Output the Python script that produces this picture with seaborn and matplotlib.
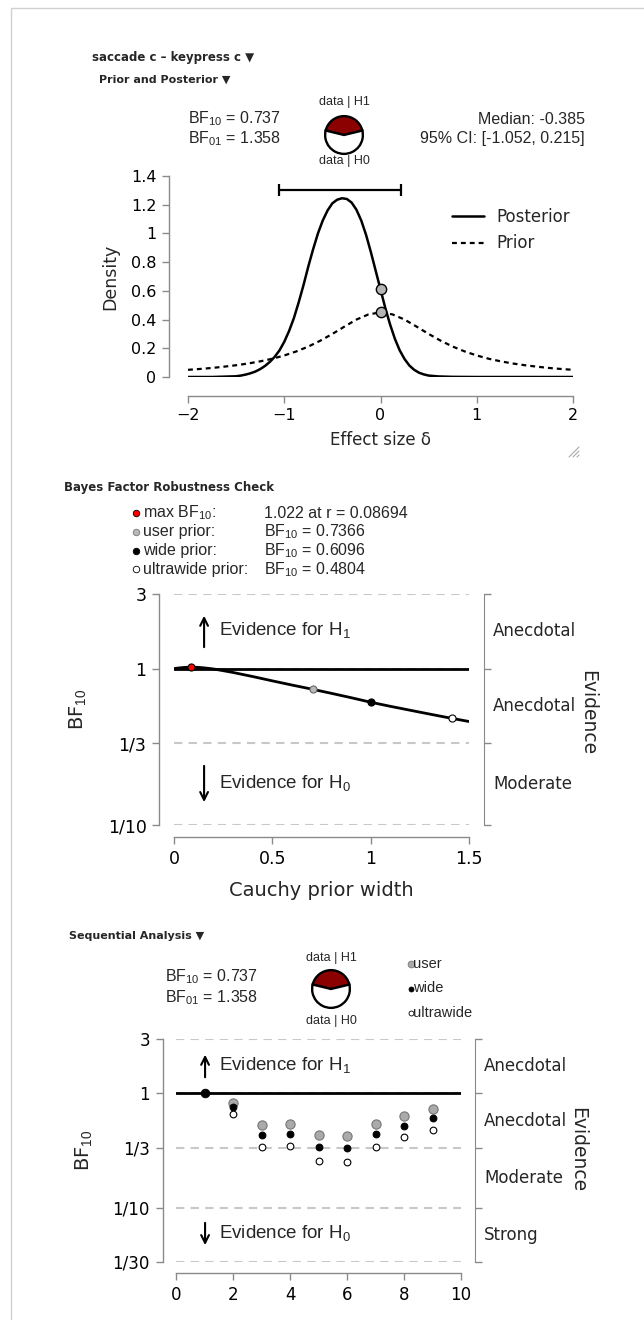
import numpy as np
import pandas as pd
import seaborn as sns
import matplotlib.pyplot as plt
from matplotlib.lines import Line2D
from matplotlib.patches import Rectangle

W, H = 644, 1320

# Prior and posterior
post_delta = [-2.0, -1.75, -1.5, -1.45, -1.4, -1.35, -1.3, -1.25, -1.2, -1.15, -1.1, -1.05,
              -1.0, -0.95, -0.9, -0.85, -0.8, -0.75, -0.7, -0.65, -0.6, -0.55, -0.5, -0.45,
              -0.4, -0.35, -0.3, -0.25, -0.2, -0.15, -0.1, -0.05, 0.0, 0.05, 0.1, 0.15,
              0.2, 0.25, 0.3, 0.35, 0.4, 0.45, 0.5, 0.6, 0.75, 1.0, 1.5, 2.0]
post_density = [0.0, 0.0, 0.005, 0.01, 0.017, 0.026, 0.038, 0.055, 0.077, 0.105, 0.14, 0.185,
                0.245, 0.32, 0.41, 0.52, 0.64, 0.77, 0.89, 1.0, 1.09, 1.16, 1.21, 1.235,
                1.245, 1.24, 1.215, 1.165, 1.09, 0.99, 0.87, 0.74, 0.61, 0.48, 0.365, 0.265,
                0.185, 0.125, 0.08, 0.05, 0.03, 0.018, 0.01, 0.004, 0.001, 0.0, 0.0, 0.0]
prior_delta = [-2.0, -1.875, -1.75, -1.625, -1.5, -1.375, -1.25, -1.125, -1.0, -0.875, -0.75,
               -0.625, -0.5, -0.375, -0.25, -0.125, 0.0, 0.125, 0.25, 0.375, 0.5, 0.625,
               0.75, 0.875, 1.0, 1.125, 1.25, 1.375, 1.5, 1.625, 1.75, 1.875, 2.0]
prior_density = [0.05, 0.056, 0.063, 0.072, 0.082, 0.094, 0.109, 0.127, 0.15, 0.178, 0.212,
                 0.253, 0.3, 0.351, 0.4, 0.436, 0.45, 0.436, 0.4, 0.351, 0.3, 0.253,
                 0.212, 0.178, 0.15, 0.127, 0.109, 0.094, 0.082, 0.072, 0.063, 0.056, 0.05]
ci_bounds = [-1.052, 0.215]
ci_level = 1.30
zero_delta = [0.0, 0.0]
zero_density = [0.61, 0.45]
bf10, bf01 = 0.737, 1.358
median = -0.385

# Robustness check
rob_r = [0.0, 0.025, 0.05, 0.087, 0.125, 0.15, 0.2, 0.25, 0.3, 0.4, 0.5, 0.6, 0.707,
         0.8, 0.9, 1.0, 1.1, 1.2, 1.3, 1.414, 1.5]
rob_bf = [1.0, 1.01, 1.017, 1.022, 1.018, 1.012, 0.995, 0.97, 0.945, 0.89, 0.835, 0.785,
          0.7366, 0.695, 0.652, 0.6096, 0.574, 0.542, 0.512, 0.4804, 0.459]
rob_pt_r = [0.08694, 0.7071, 1.0, 1.4142]
rob_pt_bf = [1.022, 0.7366, 0.6096, 0.4804]
rob_pt_name = ['max BF$_{10}$:', 'user prior:', 'wide prior:', 'ultrawide prior:']
rob_pt_text = ['1.022 at r = 0.08694', 'BF$_{10}$ = 0.7366', 'BF$_{10}$ = 0.6096',
               'BF$_{10}$ = 0.4804']
rob_pt_color = ['#ff0000', '#b8b8b8', 'black', 'white']
rob_ticks = [1 / 10, 1 / 3, 1, 3]
rob_tick_labels = ['1/10', '1/3', '1', '3']
rob_zones = ['Moderate', 'Anecdotal', 'Anecdotal']

# Sequential analysis
seq_n = [1, 2, 3, 4, 5, 6, 7, 8, 9]
seq_user = [1.0, 0.83, 0.531, 0.538, 0.429, 0.424, 0.542, 0.64, 0.737]
seq_wide = [1.0, 0.756, 0.432, 0.441, 0.338, 0.333, 0.438, 0.521, 0.6096]
seq_ultra = [1.0, 0.662, 0.342, 0.347, 0.255, 0.252, 0.34, 0.413, 0.4804]
seq_names = ['user', 'wide', 'ultrawide']
seq_ticks = [1 / 30, 1 / 10, 1 / 3, 1, 3]
seq_tick_labels = ['1/30', '1/10', '1/3', '1', '3']
seq_zones = ['Strong', 'Moderate', 'Anecdotal', 'Anecdotal']

sns.set_style('ticks')
plt.rcParams['font.family'] = ['DejaVu Sans']
plt.rcParams['mathtext.fontset'] = 'custom'
plt.rcParams['mathtext.rm'] = 'Liberation Sans'
plt.rcParams['mathtext.it'] = 'Liberation Sans:italic'
HF = 'Liberation Sans'
GRAY = '#8a8a8a'


def rect(l, t, r, b):
    return [l / W, 1 - b / H, (r - l) / W, (b - t) / H]


def pt(px):
    return px * 0.72


def style_axes(ax, left_out, bottom_out, size):
    ax.set_facecolor('none')
    ax.spines['top'].set_visible(False)
    ax.spines['right'].set_visible(False)
    for s in ['left', 'bottom']:
        ax.spines[s].set_color(GRAY)
        ax.spines[s].set_linewidth(1)
    ax.spines['left'].set_position(('outward', pt(left_out)))
    ax.spines['bottom'].set_position(('outward', pt(bottom_out)))
    ax.tick_params(color=GRAY, labelcolor='black', length=5, width=1,
                   labelsize=size, pad=4)


def pie(cx, cy, r):
    pa = fig.add_axes(rect(cx - r, cy - r, cx + r, cy + r))
    pa.pie([bf10, 1], colors=['#8b0000', 'white'], startangle=90 - 180 * bf10 / (1 + bf10),
           wedgeprops=dict(edgecolor='black', linewidth=1.7))
    pa.set_xlim(-1.06, 1.06)
    pa.set_ylim(-1.06, 1.06)
    pa.set_aspect('equal')


def evidence_axes(ax, ticks, labels, zones, right_out, size):
    ax.set_yscale('log')
    ax.set_ylim(ticks[0], ticks[-1])
    ax.set_yticks(ticks, labels)
    ax.minorticks_off()
    ax.spines['right'].set_visible(True)
    ax.spines['right'].set_color(GRAY)
    ax.spines['right'].set_position(('outward', pt(right_out)))
    ax.tick_params(axis='y', right=True, labelright=False)
    for t in ticks:
        ax.axhline(t, color='#c8c8c8', lw=1.5, ls=(0, (4, 3)), zorder=1)
    for lo, hi, z in zip(ticks[:-1], ticks[1:], zones):
        ax.text(1.081, np.sqrt(lo * hi), z, transform=ax.get_yaxis_transform(),
                ha='left', va='center', fontsize=12)
    ax.axhline(1, color='black', lw=2, zorder=2)


fig = plt.figure(figsize=(W / 100, H / 100), dpi=100)
ov = fig.add_axes([0, 0, 1, 1])
ov.set_xlim(0, W)
ov.set_ylim(H, 0)
ov.axis('off')
ov.add_patch(Rectangle((11, 8), 800, 1500, fill=False, edgecolor='#d0d0d0', lw=1))

# ---------------- Panel 1: prior and posterior ----------------
ov.text(92, 57, 'saccade c \u2013 keypress c \u25bc', fontsize=8.5, fontweight='bold',
        va='center')
ov.text(99, 80, 'Prior and Posterior \u25bc', fontsize=8, fontweight='bold', va='center')
ov.text(188, 119, 'BF$_{10}$ = %.3f' % bf10, family=HF, fontsize=11.5, va='center')
ov.text(188, 139, 'BF$_{01}$ = %.3f' % bf01, family=HF, fontsize=11.5, va='center')
ov.text(585, 119, 'Median: %.3f' % median, family=HF, fontsize=11.5, va='center', ha='right')
ov.text(585, 139, '95%% CI: [%.3f, %.3f]' % tuple(ci_bounds), family=HF, fontsize=11.5,
        va='center', ha='right')
ov.text(344, 102, 'data | H1', family=HF, fontsize=9, ha='center', va='center')
ov.text(344, 161, 'data | H0', family=HF, fontsize=9, ha='center', va='center')
for x0, x1 in [(569, 579), (573, 579), (577, 579)]:
    ov.add_line(Line2D([x0, x1], [457, 457 - (x1 - x0)], color='#aaaaaa', lw=0.8))
pie(344, 135, 20)

ax1 = fig.add_axes(rect(188, 176, 573, 377))
style_axes(ax1, 19, 19, 11.5)
sns.lineplot(x=post_delta, y=post_density, color='black', lw=1.8, ax=ax1, label='Posterior')
sns.lineplot(x=prior_delta, y=prior_density, color='black', lw=1.6, ax=ax1, label='Prior',
             linestyle=(0, (2.2, 1.8)))
ax1.errorbar(np.mean(ci_bounds), ci_level, xerr=[[np.mean(ci_bounds) - ci_bounds[0]],
             [ci_bounds[1] - np.mean(ci_bounds)]], color='black', lw=1.6, capsize=4,
             capthick=1.6, fmt='none')
sns.scatterplot(x=zero_delta, y=zero_density, color='#b5b5b5', edgecolor='black', s=55,
                linewidth=1, ax=ax1, zorder=5)
ax1.set_xlim(-2, 2)
ax1.set_ylim(0, 1.4)
ax1.set_xticks([-2, -1, 0, 1, 2])
ax1.set_yticks([0, 0.2, 0.4, 0.6, 0.8, 1, 1.2, 1.4], ['0', '0.2', '0.4', '0.6', '0.8', '1', '1.2', '1.4'])
ax1.spines['left'].set_bounds(0, 1.4)
ax1.spines['bottom'].set_bounds(-2, 2)
ax1.set_xlabel('Effect size \u03b4', fontsize=12)
ax1.set_ylabel('Density', fontsize=12.5)
ax1.xaxis.label.set_va('center')
ax1.yaxis.label.set_va('center')
ax1.xaxis.set_label_coords(0.5, -(440 - 377) / 201)
ax1.yaxis.set_label_coords((110 - 188) / 385, 0.5)
ax1.legend(frameon=False, loc='upper left', bbox_to_anchor=(0.686, 0.84), borderaxespad=0,
           borderpad=0, handlelength=1.9, handletextpad=0.75, labelspacing=0.5, fontsize=12)

# ---------------- Panel 2: robustness ----------------
ov.text(64, 488, 'Bayes Factor Robustness Check', fontsize=8.5, fontweight='bold',
        va='center')
for i, (nm, tx, c) in enumerate(zip(rob_pt_name, rob_pt_text, rob_pt_color)):
    yy = 513 + i * 18.8
    ov.scatter([136], [yy], s=22, color=c, edgecolor='black' if c != '#b8b8b8' else '#777777',
               lw=0.6, zorder=3)
    ov.text(143, yy, nm, family=HF, fontsize=11.5, va='center')
    ov.text(264, yy, tx, family=HF, fontsize=11.5, va='center')

ax2 = fig.add_axes(rect(174, 594, 469, 825))
style_axes(ax2, 15, 12, 12.5)
evidence_axes(ax2, rob_ticks, rob_tick_labels, rob_zones, 15, 12)
sns.lineplot(x=rob_r, y=rob_bf, color='black', lw=2, ax=ax2, zorder=3)
for x, y, c in zip(rob_pt_r, rob_pt_bf, rob_pt_color):
    sns.scatterplot(x=[x], y=[y], color=c, edgecolor='black' if c != '#b8b8b8' else '#666666',
                    s=26, linewidth=0.8, ax=ax2, zorder=5)
ax2.set_xlim(0, 1.5)
ax2.set_xticks([0, 0.5, 1, 1.5], ['0', '0.5', '1', '1.5'])
ax2.spines['bottom'].set_bounds(0, 1.5)
ax2.spines['left'].set_bounds(rob_ticks[0], rob_ticks[-1])
ax2.spines['right'].set_bounds(rob_ticks[0], rob_ticks[-1])
ax2.set_xlabel('Cauchy prior width', fontsize=14)
ax2.set_ylabel('BF$_{10}$', fontsize=14)
ax2.xaxis.label.set_va('center')
ax2.yaxis.label.set_va('center')
ax2.xaxis.set_label_coords(0.5, -(890 - 825) / 231)
ax2.yaxis.set_label_coords((78 - 174) / 295, 0.5)
ax2.text(1.403, 0.485, 'Evidence', rotation=-90, transform=ax2.transAxes, fontsize=13.5,
         ha='center', va='center')
ax2.annotate('', xy=(0.102, 0.918), xytext=(0.102, 0.758), xycoords='axes fraction',
             arrowprops=dict(arrowstyle='->', lw=1.5, color='black', mutation_scale=14))
ax2.annotate('', xy=(0.102, 0.087), xytext=(0.102, 0.268), xycoords='axes fraction',
             arrowprops=dict(arrowstyle='->', lw=1.5, color='black', mutation_scale=14))
ax2.text(0.153, 0.844, 'Evidence for H$_1$', transform=ax2.transAxes, family=HF,
         fontsize=13.5, va='center')
ax2.text(0.153, 0.182, 'Evidence for H$_0$', transform=ax2.transAxes, family=HF,
         fontsize=13.5, va='center')

# ---------------- Panel 3: sequential ----------------
ov.text(69, 936, 'Sequential Analysis \u25bc', fontsize=8, fontweight='bold', va='center')
ov.text(165, 977, 'BF$_{10}$ = %.3f' % bf10, family=HF, fontsize=11.5, va='center')
ov.text(165, 998, 'BF$_{01}$ = %.3f' % bf01, family=HF, fontsize=11.5, va='center')
ov.text(331, 958, 'data | H1', family=HF, fontsize=9, ha='center', va='center')
ov.text(331, 1021, 'data | H0', family=HF, fontsize=9, ha='center', va='center')
pie(331, 989, 20)
seq_style = [('#aaaaaa', '#777777', 34), ('black', 'black', 18), ('white', 'black', 18)]
for i, (nm, (fc, ec, sz)) in enumerate(zip(seq_names, seq_style)):
    yy = 964 + i * 24.5
    ov.scatter([411], [yy], s=sz * 0.7, color=fc, edgecolor=ec, lw=0.6, zorder=3)
    ov.text(413, yy, nm, family=HF, fontsize=10.5, va='center')

ax3 = fig.add_axes(rect(176, 1039, 461, 1262))
style_axes(ax3, 13.5, 11, 12)
evidence_axes(ax3, seq_ticks, seq_tick_labels, seq_zones, 14, 12)
for vals, (fc, ec, sz) in zip([seq_user, seq_wide, seq_ultra], seq_style):
    sns.scatterplot(x=seq_n[1:], y=vals[1:], color=fc, edgecolor=ec, s=sz * 1.3,
                    linewidth=0.8, ax=ax3, zorder=5)
sns.scatterplot(x=seq_n[:1], y=seq_wide[:1], color='black', edgecolor='black', s=40,
                ax=ax3, zorder=6)
ax3.set_xlim(0, 10)
ax3.set_xticks([0, 2, 4, 6, 8, 10])
ax3.spines['bottom'].set_bounds(0, 10)
ax3.spines['left'].set_bounds(seq_ticks[0], seq_ticks[-1])
ax3.spines['right'].set_bounds(seq_ticks[0], seq_ticks[-1])
ax3.set_ylabel('BF$_{10}$', fontsize=14)
ax3.yaxis.label.set_va('center')
ax3.yaxis.set_label_coords((83 - 176) / 285, 0.5)
ax3.text(1.41, 0.502, 'Evidence', rotation=-90, transform=ax3.transAxes, fontsize=13.5,
         ha='center', va='center')
ax3.annotate('', xy=(0.102, 0.942), xytext=(0.102, 0.816), xycoords='axes fraction',
             arrowprops=dict(arrowstyle='->', lw=1.5, color='black', mutation_scale=14))
ax3.annotate('', xy=(0.102, 0.063), xytext=(0.102, 0.188), xycoords='axes fraction',
             arrowprops=dict(arrowstyle='->', lw=1.5, color='black', mutation_scale=14))
ax3.text(0.151, 0.883, 'Evidence for H$_1$', transform=ax3.transAxes, family=HF,
         fontsize=13.5, va='center')
ax3.text(0.151, 0.130, 'Evidence for H$_0$', transform=ax3.transAxes, family=HF,
         fontsize=13.5, va='center')

fig.savefig('out.png', dpi=100, facecolor='white')
